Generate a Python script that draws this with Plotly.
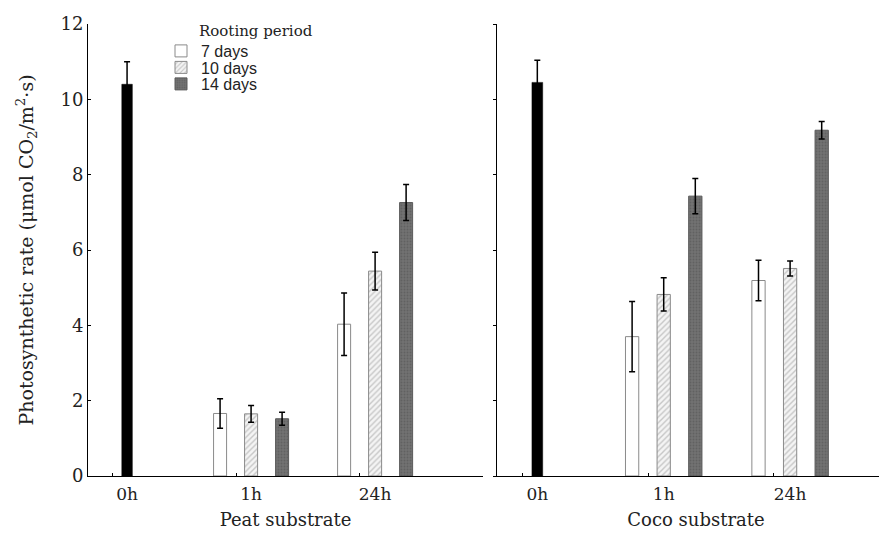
import plotly.graph_objects as go

# ---- data ----
groups = ["0h", "1h", "24h"]
periods = ["7 days", "10 days", "14 days"]
treat_groups = ["1h", "24h"]

peat_control = [10.40]
peat_control_err = [0.60]
peat_vals = {
    "7 days": [1.66, 4.03],
    "10 days": [1.65, 5.44],
    "14 days": [1.52, 7.26],
}
peat_err = {
    "7 days": [0.39, 0.83],
    "10 days": [0.22, 0.50],
    "14 days": [0.17, 0.48],
}

coco_control = [10.45]
coco_control_err = [0.59]
coco_vals = {
    "7 days": [3.70, 5.19],
    "10 days": [4.82, 5.51],
    "14 days": [7.43, 9.18],
}
coco_err = {
    "7 days": [0.93, 0.54],
    "10 days": [0.44, 0.20],
    "14 days": [0.47, 0.23],
}

y_ticks = [0, 2, 4, 6, 8, 10, 12]

# ---- styles / layout helpers ----
W, H = 887, 534
OFF = 8  # page offset of the plot inside the browser window


def fx(px):
    return (px - OFF) / W


def fy(py):
    return (H - (py - OFF)) / H


bar_w = 0.105
ctrl_w = 0.085
shift = {"7 days": -0.25, "10 days": 0.0, "14 days": 0.25}
legend_ids = {"7 days": "legend", "10 days": "legend2", "14 days": "legend3"}
legend_y = {"legend": 51, "legend2": 67.5, "legend3": 84}
styles = {
    "7 days": dict(color="#ffffff", line=dict(color="#8a8a8a", width=1)),
    "10 days": dict(color="#f4f4f4", line=dict(color="#8a8a8a", width=1),
                    pattern=dict(shape="/", fgcolor="#9a9a9a", bgcolor="#f4f4f4",
                                 size=4, solidity=0.35)),
    "14 days": dict(color="#6c6c6c", line=dict(color="#5a5a5a", width=1),
                    pattern=dict(shape=".", fgcolor="#505050", bgcolor="#727272",
                                 size=3, solidity=0.3)),
}
err_style = dict(type="data", color="black", thickness=1.5, width=3, visible=True)
SERIF = "DejaVu Serif"
SANS = "Liberation Sans"

fig = go.Figure()

panels = [
    ("x", "y", peat_control, peat_control_err, peat_vals, peat_err, True),
    ("x2", "y2", coco_control, coco_control_err, coco_vals, coco_err, False),
]
for xa, ya, ctrl, ctrl_err, vals, errs, show in panels:
    fig.add_trace(go.Bar(
        x=[groups.index("0h")], y=ctrl, width=ctrl_w,
        marker=dict(color="black", line=dict(color="black", width=0.5)),
        error_y=dict(array=ctrl_err, **err_style),
        showlegend=False, xaxis=xa, yaxis=ya,
    ))
    xs = [groups.index(g) for g in treat_groups]
    for p in periods:
        fig.add_trace(go.Bar(
            x=xs, y=vals[p], width=bar_w, offset=shift[p] - bar_w / 2,
            marker=styles[p], name=p, legendgroup=p, showlegend=show,
            legend=legend_ids[p],
            error_y=dict(array=errs[p], **err_style),
            xaxis=xa, yaxis=ya,
        ))

x_left = [fx(88), fx(483)]
x_right = [fx(497), 1.0]
y_dom = [fy(476), fy(24)]

common_x = dict(
    tickmode="array", tickvals=[0, 1, 2], ticktext=groups,
    ticks="", showline=True, linecolor="black", linewidth=1,
    showgrid=False, zeroline=False, automargin=False,
    ticklabelstandoff=3,
    tickfont=dict(family=SERIF, size=17, color="#222"),
    title_font=dict(family=SERIF, size=18, color="#222"),
    title_standoff=9,
    minor=dict(tickmode="array", tickvals=[-0.121, 0.879, 1.871],
               ticks="inside", ticklen=3, tickcolor="black", tickwidth=1,
               showgrid=False),
)
common_y = dict(
    range=[0, 12], tickmode="array", tickvals=y_ticks,
    showline=True, linecolor="black", linewidth=1,
    showgrid=False, zeroline=False, automargin=False,
    tickfont=dict(family=SERIF, size=18, color="#222"),
    domain=y_dom,
)

legend_common = dict(xanchor="left", yanchor="middle",
                     font=dict(family=SANS, size=16, color="#222"),
                     bgcolor="rgba(0,0,0,0)", borderwidth=0, itemwidth=30)

fig.update_layout(
    width=W, height=H,
    margin=dict(l=0, r=0, t=0, b=0, autoexpand=False),
    paper_bgcolor="white", plot_bgcolor="rgba(0,0,0,0)",
    barmode="overlay",
    xaxis=dict(domain=x_left, range=[-0.315, 2.87], title_text="Peat substrate",
               anchor="y", **common_x),
    xaxis2=dict(domain=x_right, range=[-0.319, 2.83], title_text="Coco substrate",
                anchor="y2", **common_x),
    yaxis=dict(anchor="x", ticks="inside", ticklen=3, tickcolor="black",
               title_text="Photosynthetic rate (μmol CO<sub>2</sub>/m<sup>2</sup>·s)",
               title_font=dict(family=SERIF, size=19, color="#222"),
               title_standoff=21, **common_y),
    yaxis2=dict(anchor="x2", ticks="outside", ticklen=3, tickcolor="black",
                showticklabels=False, **common_y),
    legend=dict(x=fx(161), y=fy(legend_y["legend"]), **legend_common),
    legend2=dict(x=fx(161), y=fy(legend_y["legend2"]), **legend_common),
    legend3=dict(x=fx(161), y=fy(legend_y["legend3"]), **legend_common),
    annotations=[dict(text="Rooting period", x=fx(197), y=fy(31),
                      xref="paper", yref="paper", xanchor="left", yanchor="middle",
                      showarrow=False,
                      font=dict(family=SERIF, size=15, color="#222"))],
)

fig.write_html("out.html")
